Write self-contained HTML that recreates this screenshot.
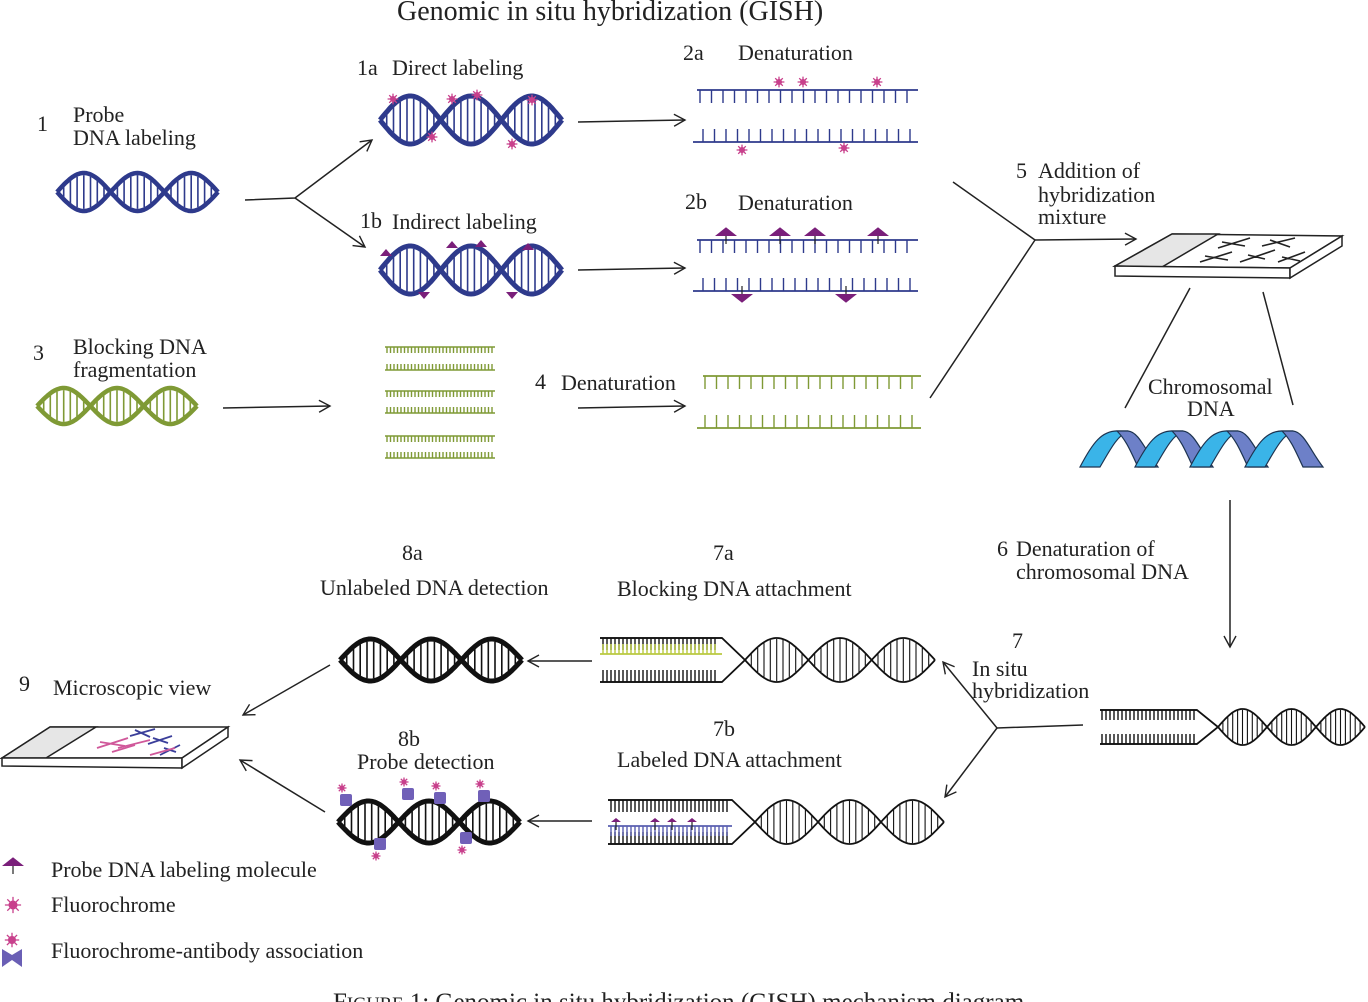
<!DOCTYPE html>
<html><head><meta charset="utf-8">
<style>
html,body{margin:0;padding:0;background:#fff;}
svg{display:block;}
text{font-family:"Liberation Serif",serif;font-size:22px;fill:#222;}
</style></head>
<body>
<svg id="s" width="1368" height="1002" viewBox="0 0 1368 1002" xmlns="http://www.w3.org/2000/svg">
<defs>
<marker id="ar" markerWidth="14" markerHeight="14" refX="12" refY="7" orient="auto" markerUnits="userSpaceOnUse">
<path d="M1,1 L12,7 L1,13" fill="none" stroke="#222" stroke-width="1.4"/>
</marker>
</defs>
<g id="g"></g>
<g stroke="#222" stroke-width="1.5" fill="none">
<path d="M245,200 L295,198 L372,140" marker-end="url(#ar)"/>
<path d="M295,198 L365,247" marker-end="url(#ar)"/>
<path d="M578,122 L685,120" marker-end="url(#ar)"/>
<path d="M578,270 L685,268" marker-end="url(#ar)"/>
<path d="M223,408 L330,406" marker-end="url(#ar)"/>
<path d="M578,408 L685,406" marker-end="url(#ar)"/>
<path d="M953,182 L1035,240 L930,398"/>
<path d="M1035,240 L1136,239" marker-end="url(#ar)"/>
<path d="M1190,288 L1125,408"/>
<path d="M1263,292 L1293,405"/>
<path d="M1230,500 L1230,647" marker-end="url(#ar)"/>
<path d="M1083,725 L997,728 L943,662" marker-end="url(#ar)"/>
<path d="M997,728 L945,797" marker-end="url(#ar)"/>
<path d="M592,661 L528,661" marker-end="url(#ar)"/>
<path d="M592,821 L528,821" marker-end="url(#ar)"/>
<path d="M330,665 L243,715" marker-end="url(#ar)"/>
<path d="M325,812 L240,760" marker-end="url(#ar)"/>
</g>
<g stroke="#222" stroke-width="1.5">
<path d="M1115,266 L1172,234 L1342,236 L1290,268 Z" fill="#fff"/>
<path d="M1115,266 L1172,234 L1218,234 L1162,267 Z" fill="#e6e6e6"/>
<path d="M1115,266 L1290,268 L1290,278 L1115,276 Z" fill="#fff"/>
<path d="M1290,268 L1342,236 L1342,246 L1290,278 Z" fill="#fff"/>
<path d="M2,758 L50,727 L228,727 L182,758 Z" fill="#fff"/>
<path d="M2,758 L50,727 L96,727 L46,758 Z" fill="#e6e6e6"/>
<path d="M2,758 L182,758 L182,768 L2,766 Z" fill="#fff"/>
<path d="M182,758 L228,727 L228,737 L182,768 Z" fill="#fff"/>
</g>
<g stroke="#222" stroke-width="1.6">
<path d="M1218,248 L1250,238 M1222,242 L1245,246 M1262,246 L1295,238 M1270,240 L1290,247 M1200,262 L1232,252 M1205,256 L1228,260 M1240,262 L1275,250 M1248,255 L1265,259 M1278,262 L1305,252 M1282,257 L1300,261"/>
</g>
<g stroke-width="1.8">
<path d="M97,748 L128,738 M100,742 L125,746 M112,752 L135,745" stroke="#d0589a"/>
<path d="M130,736 L155,729 M135,730 L150,737 M148,744 L172,736 M153,738 L168,743 M160,755 L180,745 M164,748 L176,752" stroke="#3b3f9a"/>
<path d="M118,748 L150,740 M150,755 L175,748" stroke="#d0589a"/>
</g>
<g id="rib" stroke="#1d3350" stroke-width="1.2"></g>
<g>
<text x="397" y="20" style="font-size:28px">Genomic in situ hybridization (GISH)</text>
<text x="357" y="75">1a</text><text x="392" y="75">Direct labeling</text>
<text x="683" y="60">2a</text><text x="738" y="60">Denaturation</text>
<text x="37" y="131">1</text><text x="73" y="122">Probe</text><text x="73" y="145">DNA labeling</text>
<text x="360" y="228">1b</text><text x="392" y="229">Indirect labeling</text>
<text x="685" y="209">2b</text><text x="738" y="210">Denaturation</text>
<text x="1016" y="178">5</text><text x="1038" y="178">Addition of</text><text x="1038" y="202">hybridization</text><text x="1038" y="224">mixture</text>
<text x="33" y="360">3</text><text x="73" y="354">Blocking DNA</text><text x="73" y="377">fragmentation</text>
<text x="535" y="389">4</text><text x="561" y="390">Denaturation</text>
<text x="1148" y="394">Chromosomal</text><text x="1187" y="416">DNA</text>
<text x="997" y="556">6</text><text x="1016" y="556">Denaturation of</text><text x="1016" y="579">chromosomal DNA</text>
<text x="402" y="560">8a</text><text x="320" y="595">Unlabeled DNA detection</text>
<text x="713" y="560">7a</text><text x="617" y="596">Blocking DNA attachment</text>
<text x="1012" y="648">7</text><text x="972" y="676">In situ</text><text x="972" y="698">hybridization</text>
<text x="19" y="691">9</text><text x="53" y="695">Microscopic view</text>
<text x="398" y="746">8b</text><text x="357" y="769">Probe detection</text>
<text x="713" y="736">7b</text><text x="617" y="767">Labeled DNA attachment</text>
<text x="51" y="877">Probe DNA labeling molecule</text>
<text x="51" y="912">Fluorochrome</text>
<text x="51" y="958">Fluorochrome-antibody association</text>
<text x="333" y="1010" style="font-size:25px">F<tspan style="font-size:18.5px">IGURE</tspan> 1: Genomic in situ hybridization (GISH) mechanism diagram.</text>
</g>
</svg>
<script>
var NS="http://www.w3.org/2000/svg",G=document.getElementById('g');
function el(t,a,p){var e=document.createElementNS(NS,t);for(var k in a)e.setAttribute(k,a[k]);(p||G).appendChild(e);return e;}
function helix(x0,x1,cy,A,lobes,col,w,rw,rn){
  var L=(x1-x0)/lobes,d1="",d2="";
  for(var i=0;i<=100;i++){var x=x0+(x1-x0)*i/100,s=A*Math.sin(Math.PI*(x-x0)/L);d1+=(i?"L":"M")+x.toFixed(1)+","+(cy-s).toFixed(1);d2+=(i?"L":"M")+x.toFixed(1)+","+(cy+s).toFixed(1);}
  var r="";
  for(var j=0;j<lobes;j++){for(var k=1;k<rn;k++){var x=x0+j*L+L*k/rn,s=Math.abs(A*Math.sin(Math.PI*(x-x0)/L))-w/2;if(s>1)r+="M"+x.toFixed(1)+","+(cy-s).toFixed(1)+"V"+(cy+s).toFixed(1);}}
  el('path',{d:r,stroke:col,'stroke-width':rw,fill:'none'});
  el('path',{d:d1,stroke:col,'stroke-width':w,fill:'none','stroke-linejoin':'round'});
  el('path',{d:d2,stroke:col,'stroke-width':w,fill:'none','stroke-linejoin':'round'});
}
function strand(x1,x2,y,dir,len,sp,col,w,tx1,tx2){
  el('path',{d:"M"+x1+","+y+"H"+x2,stroke:col,'stroke-width':w||1.6,fill:'none'});
  var d="";tx1=tx1||x1+4;tx2=tx2||x2-2;
  for(var x=tx1;x<=tx2;x+=sp)d+="M"+x+","+y+"v"+(dir*len);
  el('path',{d:d,stroke:col,'stroke-width':1.4,fill:'none'});
}
function star(x,y,r,col){
  var d="";for(var i=0;i<8;i++){var a=i*Math.PI/4;d+="M"+x+","+y+"L"+(x+r*1.8*Math.cos(a)).toFixed(1)+","+(y+r*1.8*Math.sin(a)).toFixed(1);}
  el('path',{d:d,stroke:col,'stroke-width':1.3});el('circle',{cx:x,cy:y,r:r,fill:col});
}
function tri(x,y,dir,s){
  el('path',{d:"M"+(x-s)+","+y+"L"+x+","+(y+dir*s*0.8)+"L"+(x+s)+","+y+"Z",fill:'#7a1f7a'});
  el('path',{d:"M"+x+","+y+"v"+(-dir*8),stroke:'#222','stroke-width':1.2});
}
var B="#2e3a8c",GR="#7f9a35",K="#111";
helix(57,218,192,19,3,B,4.5,1.6,8);
helix(380,562,120,24,3,B,5,1.6,9);
helix(380,562,270,24,3,B,5,1.6,9);
helix(37,197,406,18,3,GR,4.5,1.6,8);
helix(340,522,660,21,3,K,5,1.6,9);
helix(338,520,822,21,3,K,5,1.6,9);
function fork(xs,xf,xc,x1,cy,off,A,lobes){
  el('path',{d:"M"+xs+","+(cy-off)+"H"+xf+"L"+xc+","+cy+"L"+xf+","+(cy+off)+"H"+xs,stroke:K,'stroke-width':1.8,fill:'none'});
  helix(xc,x1,cy,A,lobes,K,1.8,1.1,10);
}
fork(600,722,745,935,660,22,22,3);
strand(600,722,638,1,12,4,K,1.6,603,718);
strand(600,722,682,-1,12,4,K,1.6,603,718);
strand(600,722,654,-1,10,4,"#b9c940",1.8,603,718);
fork(608,732,755,944,822,22,22,3);
strand(608,732,800,1,12,4,K,1.6,611,728);
strand(608,732,844,-1,12,4,K,1.6,611,728);
strand(608,732,826,1,10,4,"#5a5fb0",1.8,611,728);
[616,655,672,692].forEach(function(x){tri(x,822,-1,5);});
fork(1100,1197,1218,1365,727,17,18,3);
strand(1100,1197,710,1,10,4,K,1.6,1102,1194);
strand(1100,1197,744,-1,10,4,K,1.6,1102,1194);
strand(697,918,90,1,13,11.5,B,1.8,700,913);
strand(693,918,142,-1,13,11.5,B,1.8,703,913);
strand(697,918,240,1,13,11.5,B,1.8,700,913);
strand(693,918,291,-1,13,11.5,B,1.8,703,913);
strand(703,921,376,1,13,11.5,GR,1.8,705,917);
strand(697,921,428,-1,13,11.5,GR,1.8,705,917);
[[347,1],[370,-1],[391,1],[413,-1],[436,1],[458,-1]].forEach(function(a){strand(385,495,a[0],a[1],6,3.5,GR,1.6,387,492);});
var P="#c8408c";
[[779,82],[803,82],[877,82],[742,150],[844,148]].forEach(function(p){star(p[0],p[1],3,P);});
[[393,99],[452,99],[477,95],[532,100],[432,137],[512,144]].forEach(function(p){star(p[0],p[1],3,P);});
[[726,230],[780,230],[815,230],[878,230]].forEach(function(p){tri(p[0],p[1]+6,-1,11);});
[[742,300],[846,300]].forEach(function(p){tri(p[0],p[1]-6,1,11);});
[[386,256,-1],[452,248,-1],[481,247,-1],[528,250,-1],[424,292,1],[512,292,1]].forEach(function(p){el('path',{d:"M"+(p[0]-6)+","+p[1]+"L"+p[0]+","+(p[1]+p[2]*7)+"L"+(p[0]+6)+","+p[1]+"Z",fill:'#7a1f7a'});});
function ab(x,y,dir){el('rect',{x:x-6,y:y-6,width:12,height:12,fill:'#7060b8',rx:2});star(x-4,y-dir*12,2.5,P);}
[[346,800,1],[408,794,1],[440,798,1],[484,796,1],[380,844,-1],[466,838,-1]].forEach(function(p){ab(p[0],p[1],p[2]);});
tri(13,866,-1,11);
star(13,905,4.5,P);
star(12,940,4,P);
el('path',{d:"M2,949 L12,955 L22,949 L22,967 L12,960 L2,967 Z",fill:'#6a5fb5'});
var R=document.getElementById('rib');
for(var i=0;i<4;i++){var x=1080+55*i;
el('path',{d:"M"+x+",467 C"+(x+13)+",442 "+(x+22)+",431 "+(x+37)+",431 L"+(x+48)+",431 C"+(x+37)+",436 "+(x+30)+",450 "+(x+20)+",467 Z",fill:'#3ab4e8'},R);
el('path',{d:"M"+(x+37)+",431 L"+(x+48)+",431 C"+(x+59)+",432 "+(x+65)+",450 "+(x+78)+",467 L"+(x+58)+",467 C"+(x+50)+",450 "+(x+46)+",440 "+(x+37)+",431 Z",fill:'#6d80c8'},R);
}
</script>
</body></html>
